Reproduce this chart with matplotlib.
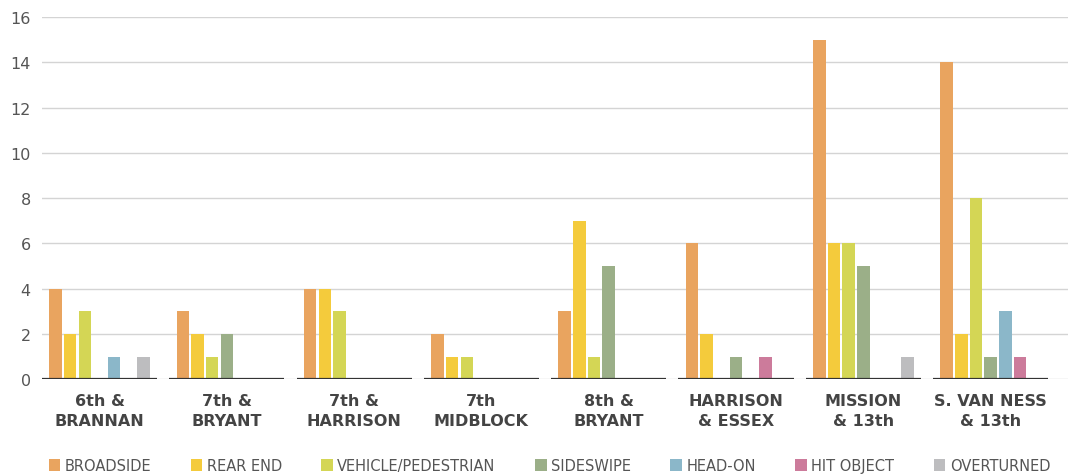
import matplotlib.pyplot as plt
import numpy as np

locations = ['6th &\nBRANNAN', '7th &\nBRYANT', '7th &\nHARRISON', '7th\nMIDBLOCK',
             '8th &\nBRYANT', 'HARRISON\n& ESSEX', 'MISSION\n& 13th', 'S. VAN NESS\n& 13th']
types = ['BROADSIDE', 'REAR END', 'VEHICLE/PEDESTRIAN', 'SIDESWIPE', 'HEAD-ON', 'HIT OBJECT', 'OVERTURNED']
broadside = [4, 3, 4, 2, 3, 6, 15, 14]
rear_end = [2, 2, 4, 1, 7, 2, 6, 2]
veh_ped = [3, 1, 3, 1, 1, 0, 6, 8]
sideswipe = [0, 2, 0, 0, 5, 1, 5, 1]
head_on = [1, 0, 0, 0, 0, 0, 0, 3]
hit_object = [0, 0, 0, 0, 0, 1, 0, 1]
overturned = [1, 0, 0, 0, 0, 0, 1, 0]
colors = ['#E9A45F', '#F4CB3C', '#D4D655', '#9BAF88', '#8BB7C9', '#CC7B9B', '#BDBDBF']

series = [broadside, rear_end, veh_ped, sideswipe, head_on, hit_object, overturned]

fig = plt.figure(figsize=(10.71, 4.77), dpi=100)
ax = fig.add_axes([0.0392, 0.203, 0.958, 0.759])

x = np.arange(len(locations))
step = 0.1152
bw = 0.098
for k, vals in enumerate(series):
    ax.bar(x + (k - 3) * step, vals, bw, color=colors[k], label=types[k], zorder=3)

# separate baseline under each group
for i in x:
    ax.hlines(0, i - 0.452, i + 0.452, color='#333333', lw=1.6, zorder=4)

ax.set_xlim(-0.452, 7.608)
ax.set_ylim(0, 16)
ax.set_yticks(range(0, 17, 2))
ax.yaxis.grid(True, color='#d4d4d4', lw=1, zorder=0)
ax.tick_params(axis='y', length=0, labelsize=11.5, labelcolor='#555555', pad=8)
ax.tick_params(axis='x', length=0, pad=10)
ax.set_xticks(x)
ax.set_xticklabels(locations, fontsize=11.5, fontweight='bold', color='#444444', linespacing=1.4)
for s in ax.spines.values():
    s.set_visible(False)

fig.legend(loc='lower center', bbox_to_anchor=(0.513, -0.006), ncol=7, frameon=False,
           fontsize=10.5, labelcolor='#555555', handlelength=0.8, handleheight=0.8,
           handletextpad=0.3, columnspacing=2.7, borderaxespad=0)

fig.savefig('out.png', dpi=100)
